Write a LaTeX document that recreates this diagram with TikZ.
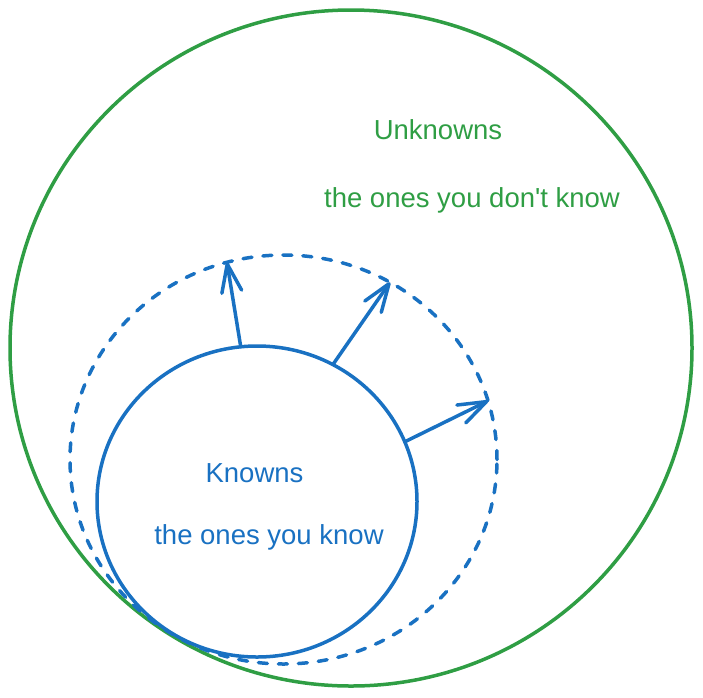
\documentclass[tikz,border=0pt]{standalone}
\usepackage{fontspec}
\setmainfont{Liberation Sans}
\usepackage{tikz}
\usetikzlibrary{shapes.geometric, arrows.meta}
\definecolor{ukgreen}{HTML}{2F9E44}
\definecolor{kblue}{HTML}{1971C2}
\tikzstyle{ring} = [ellipse, inner sep=0pt, outer sep=0pt, line width=3.5pt]
\tikzstyle{label} = [font=\fontsize{27.5}{33}\selectfont, anchor=base]
\tikzstyle{arrow} = [kblue, line width=3.5pt, line cap=round, -{Straight Barb[length=28pt, width=20pt, line cap=round, line join=round]}]

\begin{document}
\begin{tikzpicture}[x=1pt, y=1pt]
\useasboundingbox (0,0) rectangle (703,-697);

\node (unknown) [ring, draw=ukgreen, minimum width=682pt, minimum height=676pt] at (351,-348) {};

\node (reach) [ring, draw=kblue, line cap=round, dash pattern=on 9pt off 11pt, minimum width=427pt, minimum height=409pt] at (283.5,-459.5) {};

\node (known) [ring, draw=kblue, minimum width=320pt, minimum height=311pt] at (257,-501.5) {};

\node (t1) [label, text=ukgreen] at (438,-139) {Unknowns};

\node (t2) [label, text=ukgreen] at (472,-207) {the ones you don\textquotesingle t know};

\node (t3) [label, text=kblue] at (254.5,-482) {Knowns};

\node (t4) [label, text=kblue] at (269,-544) {the ones you know};

\draw [arrow] (known.96.6) -- (reach.106.5);

\draw [arrow] (known.61.2) -- (reach.59.3);

\draw [arrow] (known.22.6) -- (reach.16.7);

\end{tikzpicture}
\end{document}
